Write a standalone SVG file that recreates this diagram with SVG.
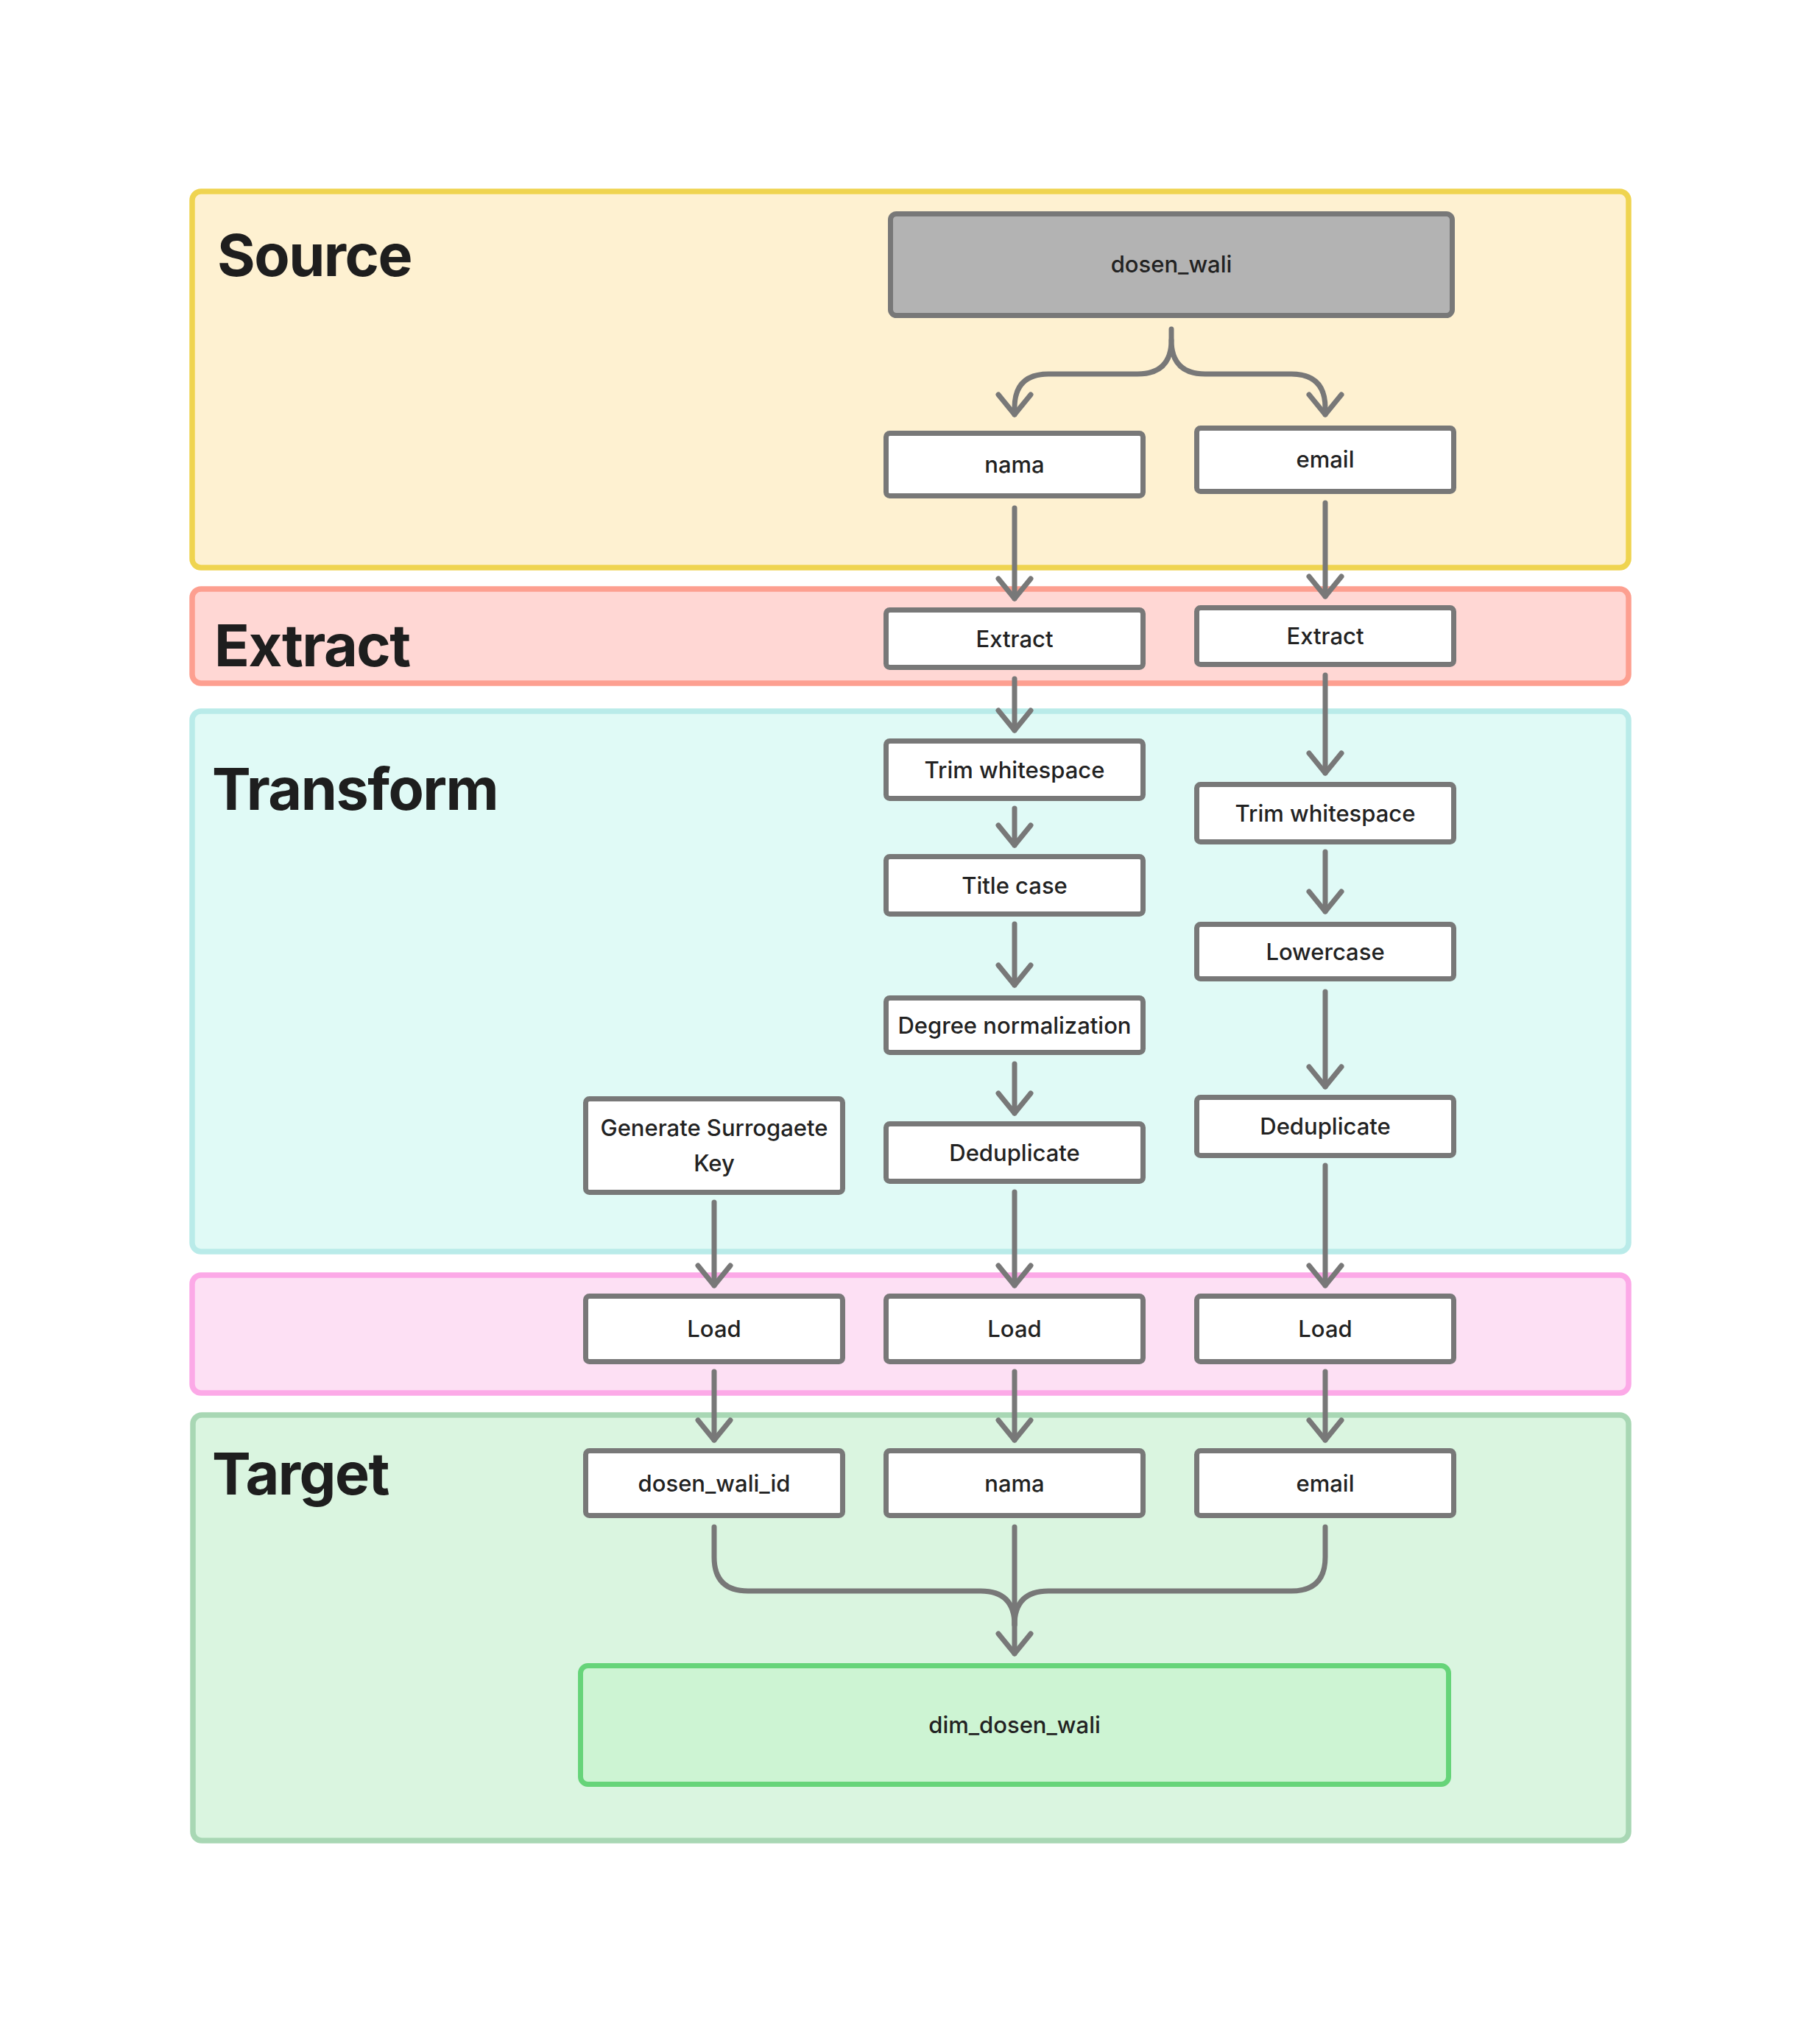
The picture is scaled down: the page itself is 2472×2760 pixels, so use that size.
<svg xmlns="http://www.w3.org/2000/svg" width="2472" height="2760" viewBox="0 0 2472 2760">
<style>
.lane{stroke-width:7.5}
.title{font-family:Inter,"Liberation Sans",sans-serif;font-weight:700;font-size:79px;fill:#1e1e1e;letter-spacing:-1.5px}
.box{fill:#ffffff;stroke:#787878;stroke-width:7}
.lbl{font-family:Inter,"Liberation Sans",sans-serif;font-size:31px;font-weight:500;fill:#222222;text-anchor:middle}
.conn path{fill:none;stroke:#787878;stroke-width:7;stroke-linecap:round;stroke-linejoin:round}
</style>
<defs>
<marker id="ah" markerUnits="userSpaceOnUse" viewBox="-35 -30 45 60" refX="0" refY="0" markerWidth="45" markerHeight="60" orient="auto">
<path d="M -27 -22 L 0 0 L -27 22" fill="none" stroke="#787878" stroke-width="7" stroke-linecap="round" stroke-linejoin="round"/>
</marker>
</defs>
<rect width="2472" height="2760" fill="#ffffff"/>
<g id="lane-source">
<rect class="lane" x="261" y="260" width="1951" height="511" rx="12" fill="#fef1d1" stroke="#efd450"/>
<text class="title" x="295" y="375">Source</text>
</g>
<g id="lane-extract">
<rect class="lane" x="261" y="800" width="1951" height="128" rx="12" fill="#ffd7d4" stroke="#fd9f90"/>
<text class="title" x="291" y="905">Extract</text>
</g>
<g id="lane-transform">
<rect class="lane" x="261" y="966" width="1951" height="734" rx="12" fill="#e0faf6" stroke="#b9ebe9"/>
<text class="title" x="288" y="1100">Transform</text>
</g>
<g id="lane-load">
<rect class="lane" x="261" y="1732" width="1951" height="160" rx="12" fill="#fde0f4" stroke="#fca9e7"/>
</g>
<g id="lane-target">
<rect class="lane" x="262" y="1922" width="1950" height="578" rx="12" fill="#daf5e0" stroke="#a8d7b4"/>
<text class="title" x="288" y="2030">Target</text>
</g>
<g class="conn" id="connectors">
<path d="M 1591 447 L 1591 462 Q 1591 508 1545 508 L 1424 508 Q 1378 508 1378 554 L 1378 563" marker-end="url(#ah)"/>
<path d="M 1591 462 Q 1591 508 1637 508 L 1754 508 Q 1800 508 1800 554 L 1800 563" marker-end="url(#ah)"/>
<path d="M 1378 690 L 1378 813" marker-end="url(#ah)"/>
<path d="M 1800 683 L 1800 810" marker-end="url(#ah)"/>
<path d="M 1378 922 L 1378 992" marker-end="url(#ah)"/>
<path d="M 1800 917 L 1800 1050" marker-end="url(#ah)"/>
<path d="M 1378 1098 L 1378 1148" marker-end="url(#ah)"/>
<path d="M 1800 1157 L 1800 1238" marker-end="url(#ah)"/>
<path d="M 1378 1255 L 1378 1338" marker-end="url(#ah)"/>
<path d="M 1800 1347 L 1800 1476" marker-end="url(#ah)"/>
<path d="M 1378 1445 L 1378 1512" marker-end="url(#ah)"/>
<path d="M 970 1633 L 970 1746" marker-end="url(#ah)"/>
<path d="M 1378 1619 L 1378 1746" marker-end="url(#ah)"/>
<path d="M 1800 1583 L 1800 1746" marker-end="url(#ah)"/>
<path d="M 970 1863 L 970 1956" marker-end="url(#ah)"/>
<path d="M 1378 1863 L 1378 1956" marker-end="url(#ah)"/>
<path d="M 1800 1863 L 1800 1956" marker-end="url(#ah)"/>
<path d="M 970 2074 L 970 2115 Q 970 2161 1016 2161 L 1332 2161 Q 1378 2161 1378 2207"/>
<path d="M 1800 2074 L 1800 2115 Q 1800 2161 1754 2161 L 1424 2161 Q 1378 2161 1378 2207"/>
<path d="M 1378 2074 L 1378 2246" marker-end="url(#ah)"/>
</g>
<g id="n-dosen_wali">
<rect x="1209.5" y="290.5" width="763" height="138" rx="8" fill="#b3b3b3" stroke="#787878" stroke-width="7"/>
<text class="lbl" x="1591" y="370">dosen_wali</text>
</g>
<g id="n-src-nama">
<rect class="box" x="1203.5" y="588.5" width="349" height="85" rx="5"/>
<text class="lbl" x="1378" y="642">nama</text>
</g>
<g id="n-src-email">
<rect class="box" x="1625.5" y="581.5" width="349" height="86" rx="5"/>
<text class="lbl" x="1800" y="635">email</text>
</g>
<g id="n-ext-nama">
<rect class="box" x="1203.5" y="828.5" width="349" height="78" rx="5"/>
<text class="lbl" x="1378" y="879">Extract</text>
</g>
<g id="n-ext-email">
<rect class="box" x="1625.5" y="825.5" width="349" height="77" rx="5"/>
<text class="lbl" x="1800" y="875">Extract</text>
</g>
<g id="n-trim-nama">
<rect class="box" x="1203.5" y="1006.5" width="349" height="78" rx="5"/>
<text class="lbl" x="1378" y="1057">Trim whitespace</text>
</g>
<g id="n-trim-email">
<rect class="box" x="1625.5" y="1065.5" width="349" height="78" rx="5"/>
<text class="lbl" x="1800" y="1116">Trim whitespace</text>
</g>
<g id="n-title-case">
<rect class="box" x="1203.5" y="1163.5" width="349" height="78" rx="5"/>
<text class="lbl" x="1378" y="1214">Title case</text>
</g>
<g id="n-lowercase">
<rect class="box" x="1625.5" y="1255.5" width="349" height="74" rx="5"/>
<text class="lbl" x="1800" y="1304">Lowercase</text>
</g>
<g id="n-degree">
<rect class="box" x="1203.5" y="1355.5" width="349" height="74" rx="5"/>
<text class="lbl" x="1378" y="1404">Degree normalization</text>
</g>
<g id="n-gen-key">
<rect class="box" x="795.5" y="1492.5" width="349" height="127" rx="5"/>
<text class="lbl" x="970" y="1543">Generate Surrogaete</text>
<text class="lbl" x="970" y="1591">Key</text>
</g>
<g id="n-dedup-nama">
<rect class="box" x="1203.5" y="1526.5" width="349" height="78" rx="5"/>
<text class="lbl" x="1378" y="1577">Deduplicate</text>
</g>
<g id="n-dedup-email">
<rect class="box" x="1625.5" y="1490.5" width="349" height="79" rx="5"/>
<text class="lbl" x="1800" y="1541">Deduplicate</text>
</g>
<g id="n-load-id">
<rect class="box" x="795.5" y="1760.5" width="349" height="89" rx="5"/>
<text class="lbl" x="970" y="1816">Load</text>
</g>
<g id="n-load-nama">
<rect class="box" x="1203.5" y="1760.5" width="349" height="89" rx="5"/>
<text class="lbl" x="1378" y="1816">Load</text>
</g>
<g id="n-load-email">
<rect class="box" x="1625.5" y="1760.5" width="349" height="89" rx="5"/>
<text class="lbl" x="1800" y="1816">Load</text>
</g>
<g id="n-tgt-id">
<rect class="box" x="795.5" y="1970.5" width="349" height="88" rx="5"/>
<text class="lbl" x="970" y="2026">dosen_wali_id</text>
</g>
<g id="n-tgt-nama">
<rect class="box" x="1203.5" y="1970.5" width="349" height="88" rx="5"/>
<text class="lbl" x="1378" y="2026">nama</text>
</g>
<g id="n-tgt-email">
<rect class="box" x="1625.5" y="1970.5" width="349" height="88" rx="5"/>
<text class="lbl" x="1800" y="2026">email</text>
</g>
<g id="n-dim_dosen_wali">
<rect x="788.5" y="2262.5" width="1179" height="161" rx="10" fill="#cdf4d3" stroke="#66d479" stroke-width="7"/>
<text class="lbl" x="1378" y="2354">dim_dosen_wali</text>
</g>
</svg>
